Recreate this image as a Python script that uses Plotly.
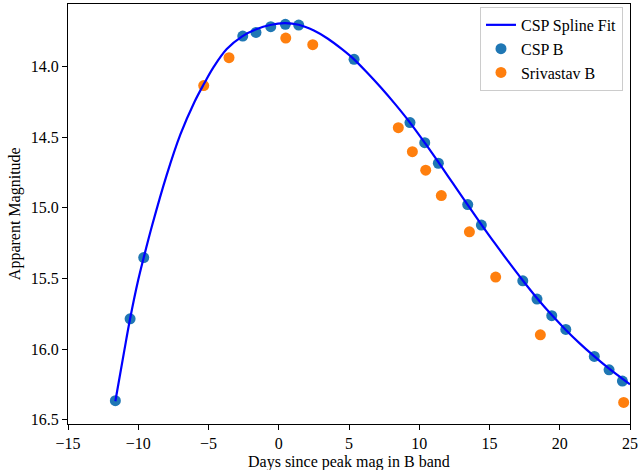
import plotly.graph_objects as go

# CSP B photometry
csp_days = [-11.63, -10.58, -9.61, -2.56, -1.62, -0.57, 0.47, 1.42, 5.36,
            9.34, 10.39, 11.36, 13.45, 14.42, 17.37, 18.38, 19.43, 20.43,
            22.46, 23.51, 24.46]
csp_mag = [16.366, 15.786, 15.352, 13.783, 13.757, 13.717, 13.700, 13.705, 13.948,
           14.396, 14.538, 14.684, 14.977, 15.122, 15.517, 15.646, 15.764, 15.861,
           16.052, 16.147, 16.227]

# Srivastav B photometry
sri_days = [-5.34, -3.54, 0.50, 2.42, 8.51, 9.51, 10.46, 11.57, 13.57, 15.44, 18.62, 24.55]
sri_mag = [14.134, 13.936, 13.797, 13.844, 14.432, 14.602, 14.733, 14.913, 15.170,
           15.490, 15.899, 16.378]

# CSP spline fit
fit_days = [-11.63, -11.0, -10.58, -10.0, -9.61, -9.0, -8.0, -7.0, -6.0, -5.34,
            -4.65, -3.70, -2.60, -1.60, -0.60, 0.40, 1.42, 2.50, 3.50, 4.50,
            5.36, 6.30, 7.30, 8.30, 9.34, 10.40, 11.40, 12.40, 13.40, 14.40,
            15.40, 16.40, 17.40, 18.40, 19.40, 20.40, 21.40, 22.40, 23.40, 24.40, 25.00]
fit_mag = [16.370, 16.015, 15.786, 15.510, 15.352, 15.120, 14.775, 14.480, 14.250, 14.125,
           14.005, 13.875, 13.785, 13.735, 13.705, 13.692, 13.703, 13.744, 13.802, 13.876,
           13.948, 14.043, 14.151, 14.267, 14.396, 14.540, 14.682, 14.827, 14.972, 15.115,
           15.254, 15.388, 15.518, 15.642, 15.756, 15.861, 15.958, 16.047, 16.130, 16.206, 16.250]

x_ticks = [-15, -10, -5, 0, 5, 10, 15, 20, 25]
y_ticks = [14.0, 14.5, 15.0, 15.5, 16.0, 16.5]

FONT = "Liberation Serif"
FS = 16

fig = go.Figure()
fig.add_trace(go.Scatter(x=csp_days, y=csp_mag, mode="markers", name="CSP B",
                         marker=dict(color="#1f77b4", size=11), legendrank=2))
fig.add_trace(go.Scatter(x=sri_days, y=sri_mag, mode="markers", name="Srivastav B",
                         marker=dict(color="#ff7f0e", size=11), legendrank=3))
fig.add_trace(go.Scatter(x=fit_days, y=fit_mag, mode="lines", name="CSP Spline Fit",
                         line=dict(color="#0000ff", width=2.2, shape="spline", smoothing=1.0),
                         legendrank=1))

axis_common = dict(showline=True, linecolor="black", linewidth=1.2, mirror=True,
                   ticks="outside", ticklen=5, tickwidth=1.2, tickcolor="black",
                   showgrid=False, zeroline=False, automargin=False,
                   tickfont=dict(family=FONT, size=FS, color="black"))

fig.update_xaxes(range=[-15, 25], tickvals=x_ticks,
                 ticktext=[str(v).replace("-", "\u2212") for v in x_ticks],
                 **axis_common)
fig.update_yaxes(range=[16.531, 13.556], tickvals=y_ticks,
                 ticktext=[f"{v:.1f}" for v in y_ticks],
                 **axis_common)

fig.add_annotation(text="Days since peak mag in B band", xref="paper", yref="paper",
                   x=0.5, y=-0.09, xanchor="center", yanchor="middle", showarrow=False,
                   font=dict(family=FONT, size=FS, color="black"))
fig.add_annotation(text="Apparent Magnitude", xref="paper", yref="paper",
                   x=-0.094, y=0.5, xanchor="center", yanchor="middle", showarrow=False,
                   textangle=-90, font=dict(family=FONT, size=FS, color="black"))

fig.update_layout(
    width=638, height=470,
    margin=dict(l=68, r=8, t=4, b=46, autoexpand=False),
    paper_bgcolor="white", plot_bgcolor="white",
    font=dict(family=FONT, size=FS, color="black"),
    legend=dict(x=0.9875, y=0.993, xanchor="right", yanchor="top",
                bgcolor="rgba(255,255,255,0.8)", bordercolor="#cccccc", borderwidth=1,
                font=dict(family=FONT, size=FS, color="black"),
                itemwidth=30, tracegroupgap=0),
    showlegend=True,
)

fig.write_html("out.html", config={"displayModeBar": False},
               post_script="document.body.style.margin='0';document.body.style.overflow='hidden';")
